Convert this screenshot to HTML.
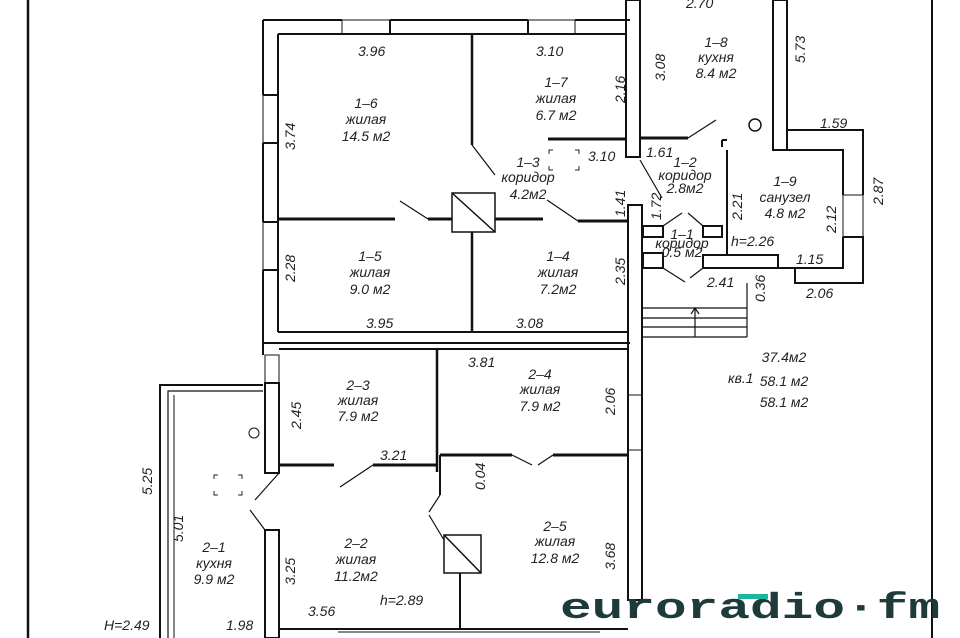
<!DOCTYPE html>
<html><head><meta charset="utf-8"><style>
html,body{margin:0;padding:0;background:#fff;}
svg{display:block}
text{font-family:"Liberation Sans",sans-serif;font-style:italic;fill:#222;font-size:14px}
</style></head><body>
<svg width="960" height="638" viewBox="0 0 960 638" xmlns="http://www.w3.org/2000/svg">
<g stroke="#111" fill="none" stroke-width="2">
<line x1="28" y1="0" x2="28" y2="638" stroke-width="2.5"/>
<line x1="932" y1="0" x2="932" y2="638" stroke-width="2"/>
<!-- top block outer -->
<polyline points="263,20 342,20"/><polyline points="390,20 528,20"/><polyline points="575,20 630,20"/>
<rect x="342" y="20" width="48" height="14" stroke-width="1"/>
<rect x="528" y="20" width="47" height="14" stroke-width="1"/>
<line x1="390" y1="20" x2="390" y2="34"/><line x1="528" y1="20" x2="528" y2="34"/>
<line x1="278" y1="34" x2="626" y2="34"/>
<line x1="263" y1="20" x2="263" y2="95"/><line x1="263" y1="143" x2="263" y2="222"/><line x1="263" y1="270" x2="263" y2="346"/>
<rect x="263" y="95" width="15" height="48" stroke-width="1"/>
<rect x="263" y="222" width="15" height="48" stroke-width="1"/>
<line x1="263" y1="95" x2="278" y2="95"/><line x1="263" y1="143" x2="278" y2="143"/><line x1="263" y1="222" x2="278" y2="222"/><line x1="263" y1="270" x2="278" y2="270"/>
<line x1="278" y1="34" x2="278" y2="332"/>
<line x1="278" y1="332" x2="628" y2="332"/>
<!-- right wall top -->
<rect x="626" y="0" width="14" height="157"/>
<rect x="628" y="205" width="14" height="395"/>
<!-- inner walls -->
<line x1="472" y1="34" x2="472" y2="145" stroke-width="2.5"/>
<line x1="472" y1="232" x2="472" y2="332" stroke-width="2.5"/>
<line x1="278" y1="219" x2="395" y2="219" stroke-width="3"/>
<line x1="428" y1="219" x2="452" y2="219" stroke-width="3"/>
<line x1="495" y1="219" x2="543" y2="219" stroke-width="3"/>
<line x1="578" y1="221" x2="628" y2="221" stroke-width="3"/>
<line x1="548" y1="139" x2="626" y2="139" stroke-width="3"/>
<line x1="400" y1="201" x2="428" y2="219" stroke-width="1.2"/>
<line x1="472" y1="145" x2="495" y2="175" stroke-width="1.2"/>
<line x1="547" y1="200" x2="578" y2="221" stroke-width="1.2"/>
<rect x="452" y="193" width="43" height="39" stroke-width="1.5"/>
<line x1="452" y1="193" x2="495" y2="232" stroke-width="1.5"/>
<!-- kitchen 1-8 -->
<rect x="773" y="0" width="14" height="150"/>
<line x1="640" y1="138" x2="688" y2="138" stroke-width="3"/>
<line x1="688" y1="138" x2="716" y2="120" stroke-width="1.2"/>
<circle cx="755" cy="125" r="6" stroke-width="1.5"/>
<!-- sanuzel -->
<polyline points="787,130 863,130 863,195"/>
<polyline points="787,150 843,150 843,195"/>
<rect x="843" y="195" width="20" height="42" stroke-width="1"/>
<polyline points="843,237 863,237 863,283 795,283 795,268"/>
<polyline points="843,237 843,268 778,268"/>
<polyline points="727,150 727,255"/>
<line x1="722" y1="140" x2="727" y2="140"/>
<line x1="722" y1="140" x2="722" y2="147" />
<rect x="703" y="255" width="75" height="13"/>
<!-- corridor 1-1 -->
<rect x="643" y="226" width="20" height="11"/>
<rect x="643" y="253" width="20" height="15"/>
<rect x="703" y="226" width="19" height="11"/>
<line x1="640" y1="160" x2="662" y2="198" stroke-width="1.2"/>
<line x1="663" y1="226" x2="682" y2="213" stroke-width="1.2"/>
<line x1="703" y1="226" x2="688" y2="213" stroke-width="1.2"/>
<line x1="663" y1="268" x2="685" y2="282" stroke-width="1.2"/>
<line x1="703" y1="268" x2="690" y2="278" stroke-width="1.2"/>
<!-- stairs -->
<g stroke-width="1.2">
<line x1="643" y1="308" x2="747" y2="308"/><line x1="643" y1="318" x2="747" y2="318"/>
<line x1="643" y1="327" x2="747" y2="327"/><line x1="643" y1="337" x2="747" y2="337"/>
<line x1="747" y1="283" x2="747" y2="337"/>
<line x1="695" y1="337" x2="695" y2="308"/><polyline points="691,314 695,308 699,314"/>
</g>
<!-- bottom block -->
<line x1="263" y1="343" x2="630" y2="343"/>
<line x1="279" y1="349" x2="628" y2="349"/>
<line x1="263" y1="346" x2="263" y2="355"/>
<rect x="265" y="355" width="14" height="28" stroke-width="1"/>
<rect x="265" y="383" width="14" height="90"/>
<rect x="265" y="530" width="14" height="108"/>
<line x1="437" y1="349" x2="437" y2="472" stroke-width="2.5"/>
<line x1="279" y1="465" x2="334" y2="465" stroke-width="3"/>
<line x1="373" y1="465" x2="437" y2="465" stroke-width="3"/>
<line x1="340" y1="487" x2="373" y2="465" stroke-width="1.2"/>
<line x1="440" y1="455" x2="512" y2="455" stroke-width="3"/>
<line x1="553" y1="455" x2="628" y2="455" stroke-width="3"/>
<line x1="512" y1="455" x2="532" y2="465" stroke-width="1.2"/>
<line x1="553" y1="455" x2="538" y2="465" stroke-width="1.2"/>
<line x1="440" y1="455" x2="440" y2="495" stroke-width="2"/>
<line x1="440" y1="495" x2="429" y2="512" stroke-width="1.2"/>
<line x1="429" y1="515" x2="444" y2="540" stroke-width="1.2"/>
<rect x="444" y="535" width="37" height="38" stroke-width="1.5"/>
<line x1="444" y1="535" x2="481" y2="573" stroke-width="1.5"/>
<line x1="460" y1="573" x2="460" y2="629" stroke-width="2"/>
<line x1="279" y1="629" x2="628" y2="629"/>
<rect x="628" y="395" width="14" height="55" stroke-width="1"/>
<line x1="279" y1="473" x2="255" y2="500" stroke-width="1.2"/>
<line x1="250" y1="510" x2="265" y2="530" stroke-width="1.2"/>
<!-- balcony/kitchen 2-1 -->
<polyline points="263,385 160,385 160,638"/>
<polyline points="263,391 168,391 168,638" stroke-width="1.2"/>
<line x1="174" y1="395" x2="174" y2="638" stroke-width="1"/>
<line x1="338" y1="632" x2="600" y2="632" stroke-width="1"/>
<circle cx="254" cy="433" r="5" stroke-width="1"/>
</g>
<!-- vent marks -->
<g stroke="#222" stroke-width="1" fill="none">
<path d="M553,150 l-4,0 0,4 M575,150 l4,0 0,4 M553,170 l-4,0 0,-4 M575,170 l4,0 0,-4"/>
<path d="M218,475 l-4,0 0,4 M238,475 l4,0 0,4 M218,495 l-4,0 0,-4 M238,495 l4,0 0,-4"/>
</g>
<!-- labels -->
<text x="358" y="56">3.96</text>
<text x="536" y="56">3.10</text>
<text x="366" y="108" text-anchor="middle">1–6</text>
<text x="366" y="124" text-anchor="middle">жилая</text>
<text x="366" y="141" text-anchor="middle">14.5 м2</text>
<text x="556" y="87" text-anchor="middle">1–7</text>
<text x="556" y="103" text-anchor="middle">жилая</text>
<text x="556" y="120" text-anchor="middle">6.7 м2</text>
<text x="528" y="167" text-anchor="middle">1–3</text>
<text x="528" y="182" text-anchor="middle">коридор</text>
<text x="528" y="199" text-anchor="middle">4.2м2</text>
<text x="588" y="161">3.10</text>
<text x="370" y="261" text-anchor="middle">1–5</text>
<text x="370" y="277" text-anchor="middle">жилая</text>
<text x="370" y="294" text-anchor="middle">9.0 м2</text>
<text x="558" y="261" text-anchor="middle">1–4</text>
<text x="558" y="277" text-anchor="middle">жилая</text>
<text x="558" y="294" text-anchor="middle">7.2м2</text>
<text x="366" y="328">3.95</text>
<text x="516" y="328">3.08</text>
<text x="686" y="8">2.70</text>
<text x="716" y="47" text-anchor="middle">1–8</text>
<text x="716" y="62" text-anchor="middle">кухня</text>
<text x="716" y="78" text-anchor="middle">8.4 м2</text>
<text x="820" y="128">1.59</text>
<text x="646" y="157">1.61</text>
<text x="685" y="167" text-anchor="middle" font-size="13">1–2</text>
<text x="685" y="180" text-anchor="middle" font-size="13">коридор</text>
<text x="685" y="193" text-anchor="middle" font-size="13">2.8м2</text>
<text x="785" y="186" text-anchor="middle">1–9</text>
<text x="785" y="202" text-anchor="middle">санузел</text>
<text x="785" y="218" text-anchor="middle">4.8 м2</text>
<text x="731" y="246">h=2.26</text>
<text x="796" y="264">1.15</text>
<text x="682" y="239" text-anchor="middle" font-size="10">1–1</text>
<text x="682" y="248" text-anchor="middle" font-size="10">коридор</text>
<text x="682" y="257" text-anchor="middle" font-size="10">0.5 м2</text>
<text x="707" y="287">2.41</text>
<text x="806" y="298">2.06</text>
<text x="784" y="362" text-anchor="middle">37.4м2</text>
<text x="784" y="386" text-anchor="middle">58.1 м2</text>
<text x="784" y="407" text-anchor="middle">58.1 м2</text>
<text x="728" y="383">кв.1</text>
<text x="358" y="390" text-anchor="middle">2–3</text>
<text x="358" y="405" text-anchor="middle">жилая</text>
<text x="358" y="421" text-anchor="middle">7.9 м2</text>
<text x="468" y="367">3.81</text>
<text x="540" y="379" text-anchor="middle">2–4</text>
<text x="540" y="394" text-anchor="middle">жилая</text>
<text x="540" y="411" text-anchor="middle">7.9 м2</text>
<text x="380" y="460">3.21</text>
<text x="356" y="548" text-anchor="middle">2–2</text>
<text x="356" y="564" text-anchor="middle">жилая</text>
<text x="356" y="581" text-anchor="middle">11.2м2</text>
<text x="555" y="531" text-anchor="middle">2–5</text>
<text x="555" y="546" text-anchor="middle">жилая</text>
<text x="555" y="563" text-anchor="middle">12.8 м2</text>
<text x="214" y="552" text-anchor="middle">2–1</text>
<text x="214" y="568" text-anchor="middle">кухня</text>
<text x="214" y="584" text-anchor="middle">9.9 м2</text>
<text x="380" y="605">h=2.89</text>
<text x="308" y="616">3.56</text>
<text x="226" y="630">1.98</text>
<text x="104" y="630">H=2.49</text>
<!-- rotated dims -->
<text transform="translate(295,150) rotate(-90)">3.74</text>
<text transform="translate(295,282) rotate(-90)">2.28</text>
<text transform="translate(625,103) rotate(-90)">2.16</text>
<text transform="translate(625,217) rotate(-90)">1.41</text>
<text transform="translate(625,285) rotate(-90)">2.35</text>
<text transform="translate(665,81) rotate(-90)">3.08</text>
<text transform="translate(661,220) rotate(-90)">1.72</text>
<text transform="translate(805,63) rotate(-90)">5.73</text>
<text transform="translate(742,220) rotate(-90)">2.21</text>
<text transform="translate(836,233) rotate(-90)">2.12</text>
<text transform="translate(883,205) rotate(-90)">2.87</text>
<text transform="translate(765,302) rotate(-90)">0.36</text>
<text transform="translate(301,429) rotate(-90)">2.45</text>
<text transform="translate(615,415) rotate(-90)">2.06</text>
<text transform="translate(485,490) rotate(-90)">0.04</text>
<text transform="translate(615,570) rotate(-90)">3.68</text>
<text transform="translate(152,495) rotate(-90)">5.25</text>
<text transform="translate(183,542) rotate(-90)">5.01</text>
<text transform="translate(295,585) rotate(-90)">3.25</text>
<!-- logo -->
<text x="560" y="618" textLength="380" lengthAdjust="spacingAndGlyphs" style="font-style:normal;font-weight:bold;font-size:36px;fill:#1f3a3a;font-family:'Liberation Mono',monospace">euroradio·fm</text>
<rect x="738" y="594" width="30" height="5" fill="#1fb59a"/>
</svg>
</body></html>
